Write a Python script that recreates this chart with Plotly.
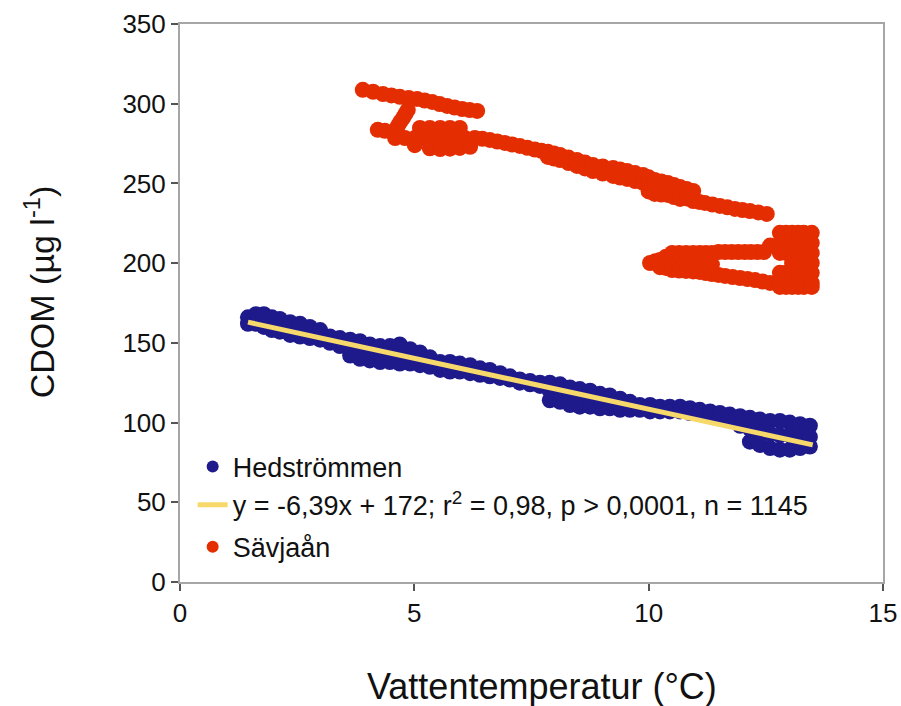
import plotly.graph_objects as go

# ---------------- Hedströmmen (x, band rows of CDOM values) -------------
hed_x = [1.45, 1.62, 1.79, 1.96, 2.13, 2.35, 2.56, 2.77, 2.99, 3.20, 3.41, 3.63, 3.84, 4.05,
         4.27, 4.48, 4.69, 4.91, 5.12, 5.33, 5.55, 5.76, 5.97, 6.19, 6.40, 6.61, 6.83, 7.04,
         7.25, 7.47, 7.68, 7.89, 8.11, 8.32, 8.53, 8.75, 8.96, 9.17, 9.39, 9.60, 9.81, 10.03,
         10.24, 10.45, 10.67, 10.88, 11.09, 11.31, 11.52, 11.73, 11.95, 12.16, 12.37, 12.59,
         12.80, 13.01, 13.23, 13.44]
hed_top = [166, 168, 168, 166, 165, 163, 162, 160, 158, 154, 153, 152, 151, 149,
           148, 148, 149, 146, 144, 141, 138, 138, 137, 136, 134, 133, 131, 129,
           127, 126, 125, 125, 124, 122, 121, 120, 118, 117, 115, 113, 111, 111,
           110, 110, 110, 109, 108, 107, 106, 105, 104, 103, 102, 101,
           101, 100, 99, 98]
hed_bottom = [162, 162, 160, 158, 157, 155, 154, 153, 152, 150, 148, 142, 140, 139,
              138, 138, 137, 137, 136, 135, 133, 132, 132, 131, 130, 129, 128, 127,
              125, 124, 123, 114, 113, 111, 110, 110, 109, 109, 108, 108, 108, 107,
              107, 107, 107, 106, 106, 105, 104, 103, 98, 88, 86, 84,
              83, 83, 84, 85]
hed_mid = [None, None, None, None, 161, None, None, None, None, None, None, 147, 145, 144,
           143, 143, 143, 141, None, None, None, None, None, None, None, None, None, None,
           None, None, None, 120, 118, 117, 116, 115, 114, None, None, None, None, None,
           None, None, None, None, None, None, None, None, None, 96, 94, 93,
           92, 92, 91, 91]

# Regression line end points as drawn
line_x = [1.45, 13.5]
line_y = [163, 86]

# ---------------- Sävjaån ----------------
sav_x = [
    # upper stroke
    3.90, 4.12, 4.33, 4.51, 4.69, 4.88, 5.06, 5.22, 5.38, 5.54, 5.70, 5.86, 6.02, 6.18, 6.34,
    # connector
    4.86, 4.81, 4.76, 4.70, 4.65,
    # second stroke + blob
    4.22, 4.37, 4.52,
    5.12, 5.33, 5.55, 5.76, 5.97,
    4.59, 4.80, 5.01, 5.23, 5.44, 5.65, 5.87, 6.08, 6.29,
    5.01, 5.33, 5.55, 5.76, 5.97, 6.19,
    # main diagonal
    6.45, 6.61, 6.77, 6.93, 7.09, 7.25, 7.41, 7.57, 7.71, 7.85, 7.85, 7.98, 7.98, 8.11, 8.11,
    8.29, 8.29, 8.47, 8.47, 8.64, 8.64, 8.81, 8.81, 9.02, 9.02, 9.24, 9.24, 9.39, 9.39,
    9.54, 9.54, 9.71, 9.71, 9.88, 9.88, 10.00, 10.00, 10.00,
    10.13, 10.13, 10.13, 10.27, 10.27, 10.27, 10.41, 10.41, 10.41,
    10.54, 10.54, 10.54, 10.67, 10.67, 10.67,
    10.81, 10.81, 10.95, 10.95, 11.08, 11.20, 11.36, 11.52, 11.68, 11.84, 12.00, 12.16,
    12.34, 12.52,
    # lower loop: tip and solid part
    10.03, 10.14, 10.24, 10.24, 10.37, 10.37, 10.50, 10.50, 10.50, 10.65, 10.65, 10.65,
    10.80, 10.80, 10.80, 10.95, 10.95, 10.95, 11.09, 11.09, 11.09,
    11.22, 11.22, 11.22, 11.35, 11.35, 11.35,
    # upper branch
    11.49, 11.63, 11.77, 11.91, 12.05, 12.18, 12.32, 12.46, 12.59,
    # lower branch
    11.49, 11.63, 11.79, 11.95, 12.11, 12.27, 12.43, 12.59,
    # right block
    12.80, 12.80, 12.80, 12.80, 12.80, 12.80,
    12.93, 12.93, 12.93, 12.93, 12.93, 12.93,
    13.06, 13.06, 13.06, 13.06, 13.06, 13.06, 13.06,
    13.19, 13.19, 13.19, 13.19, 13.19, 13.19, 13.19,
    13.31, 13.31, 13.31, 13.31, 13.31, 13.31, 13.31,
    13.48, 13.48, 13.48, 13.48, 13.48, 13.48, 13.48,
]
sav_y = [
    308.7, 307.5, 306.1, 305.2, 304.3, 303.6, 303.0, 302.0, 301.1, 299.8, 298.6, 297.6, 296.7, 296.0, 295.5,
    296.1, 293.6, 291.1, 288.6, 286.1,
    283.6, 283.0, 282.3,
    284.8, 284.8, 284.8, 284.8, 284.8,
    278.5, 278.5, 278.5, 278.5, 278.5, 278.5, 278.5, 278.5, 278.5,
    274.0, 272.0, 271.6, 271.8, 272.3, 273.0,
    278.0, 277.3, 276.3, 275.4, 274.4, 273.5, 272.4, 271.3, 270.5, 269.8, 266.6, 268.8, 265.6, 267.9, 264.7,
    266.2, 262.8, 264.7, 261.0, 263.2, 259.4, 261.6, 257.8, 260.6, 256.2, 259.7, 254.7, 258.8, 253.7,
    257.8, 252.8, 256.5, 251.5, 255.3, 250.3, 253.8, 249.0, 245.0,
    252.2, 247.8, 243.4, 251.2, 247.1, 243.0, 250.3, 246.5, 242.8,
    249.0, 245.2, 241.5, 247.8, 244.0, 240.3,
    246.5, 240.6, 245.3, 239.0, 238.4, 237.8, 236.8, 235.9, 235.0, 234.0, 233.3, 232.7,
    231.8, 230.9,
    200.1, 201.2, 202.0, 197.5, 204.0, 197.0, 206.4, 200.8, 195.7, 206.4, 200.8, 195.4,
    206.4, 200.8, 195.1, 206.4, 200.4, 194.8, 206.4, 200.1, 194.5,
    206.4, 199.6, 193.8, 206.4, 199.1, 193.2,
    207.0, 207.0, 207.0, 207.0, 207.0, 207.0, 207.0, 207.0, 211.0,
    192.6, 192.0, 191.3, 190.7, 190.0, 189.4, 188.5, 187.6,
    219.0, 212.7, 206.4, 193.9, 187.6, 185.1,
    219.0, 212.7, 206.4, 193.9, 187.6, 185.1,
    219.0, 212.7, 206.4, 200.1, 193.9, 187.6, 185.1,
    219.0, 212.7, 206.4, 200.1, 193.9, 187.6, 185.1,
    219.0, 212.7, 206.4, 200.1, 193.9, 187.6, 185.1,
    219.0, 212.7, 206.4, 200.1, 193.9, 187.6, 185.1,
]

# Assemble Hedströmmen point rows
hx, hy = [], []
for x, t, b, m in zip(hed_x, hed_top, hed_bottom, hed_mid):
    hx += [x, x]
    hy += [t, b]
    if m is not None:
        hx.append(x)
        hy.append(m)

x_ticks = [0, 5, 10, 15]
y_ticks = [0, 50, 100, 150, 200, 250, 300, 350]

BLUE = "#1E1A8C"
RED = "#E42D00"
YELLOW = "#F7D96B"
FONT = "Liberation Sans, Arial, sans-serif"

fig = go.Figure()
fig.add_trace(go.Scatter(
    x=hx, y=hy, mode="markers", name="Hedströmmen",
    marker=dict(color=BLUE, size=16, line=dict(width=0)),
    legendgroup="a", legendrank=1,
))
fig.add_trace(go.Scatter(
    x=sav_x, y=sav_y, mode="markers", name="Sävjaån",
    marker=dict(color=RED, size=16, line=dict(width=0)),
    legendgroup="b", legendrank=3,
))
fig.add_trace(go.Scatter(
    x=line_x, y=line_y, mode="lines",
    name="y = -6,39x + 172; r<sup>2</sup> = 0,98, p > 0,0001, n = 1145",
    line=dict(color=YELLOW, width=5),
    legendgroup="a", legendrank=2,
))

fig.update_layout(
    width=901, height=706,
    margin=dict(l=180, r=18, t=24, b=124, autoexpand=False),
    paper_bgcolor="white", plot_bgcolor="white",
    font=dict(family=FONT, color="#111111", size=26),
    showlegend=True,
    legend=dict(
        x=0.018, y=0.25, xanchor="left", yanchor="top",
        bgcolor="rgba(0,0,0,0)", borderwidth=0,
        font=dict(size=27, family=FONT, color="#111111"),
        tracegroupgap=4, traceorder="grouped",
        itemsizing="constant",
    ),
    annotations=[
        dict(text="Vattentemperatur (°C)", xref="paper", yref="paper",
             x=0.515, y=-0.188, xanchor="center", yanchor="middle", showarrow=False,
             font=dict(size=36, family=FONT, color="#111111")),
        dict(text="CDOM (µg l<sup>-1</sup>)", xref="paper", yref="paper",
             x=-0.2, y=0.52, xanchor="center", yanchor="middle", showarrow=False,
             textangle=-90, font=dict(size=34, family=FONT, color="#111111")),
    ],
)
fig.update_xaxes(
    range=[0, 15], tickvals=x_ticks, ticktext=[str(v) for v in x_ticks],
    showgrid=False, zeroline=False, automargin=False, ticklabeloverflow="allow",
    showline=True, linecolor="#a6a6a6", linewidth=2, mirror=True,
    ticks="outside", ticklen=7, tickwidth=2, tickcolor="#555555",
    tickfont=dict(size=26, family=FONT, color="#111111"),
)
fig.update_yaxes(
    range=[0, 350], tickvals=y_ticks, ticktext=[str(v) for v in y_ticks],
    showgrid=False, zeroline=False, automargin=False,
    showline=True, linecolor="#a6a6a6", linewidth=2, mirror=True,
    ticks="outside", ticklen=7, tickwidth=2, tickcolor="#555555",
    tickfont=dict(size=26, family=FONT, color="#111111"),
)

fig.write_html("out.html")
